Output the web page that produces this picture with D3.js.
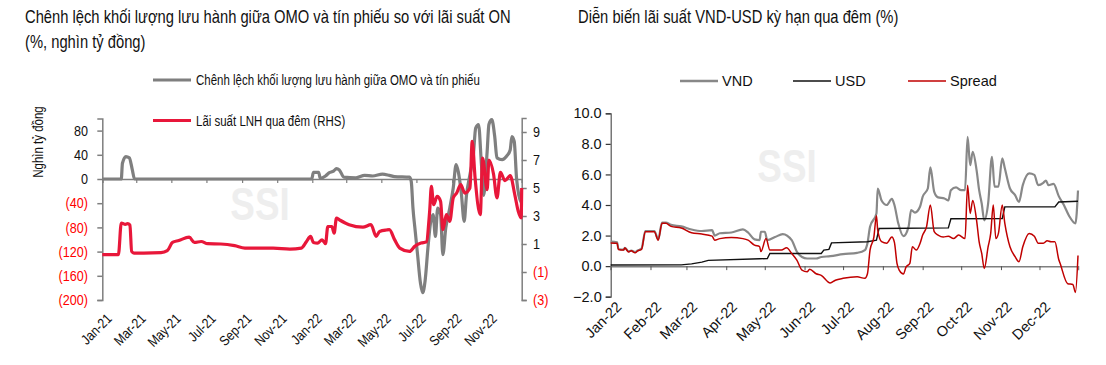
<!DOCTYPE html>
<html><head><meta charset="utf-8">
<script src="https://cdn.jsdelivr.net/npm/d3@7/dist/d3.min.js"></script>
<style>
body{margin:0;background:#fff;}
svg{display:block;}
text{font-family:"Liberation Sans",Arial,sans-serif;}
</style></head>
<body><svg id="c" width="1106" height="365"></svg>
<script>
// ---------- LEFT CHART DATA ----------
const leftTitle1 = "Chênh lệch khối lượng lưu hành giữa OMO và tín phiếu so với lãi suất ON";
const leftTitle2 = "(%, nghìn tỷ đồng)";
const omoLabel = "Chênh lệch khối lượng lưu hành giữa OMO và tín phiếu";
const onLabel = "Lãi suất LNH qua đêm (RHS)";
const leftYTicks = [-200,-160,-120,-80,-40,0,40,80];
const rightYTicks = [-3,-1,1,3,5,7,9];
const omoDates = ["2021-01-01","2021-02-03","2021-02-05","2021-02-11","2021-02-17","2021-02-22","2021-02-26","2021-12-31","2022-01-03","2022-01-12","2022-01-15","2022-01-24","2022-01-30","2022-02-07","2022-02-12","2022-02-17","2022-02-25","2022-03-18","2022-04-02","2022-04-16","2022-05-03","2022-05-15","2022-05-24","2022-06-19","2022-06-22","2022-06-25","2022-06-29","2022-07-03","2022-07-08","2022-07-12","2022-07-16","2022-07-21","2022-07-25","2022-07-30","2022-08-03","2022-08-07","2022-08-12","2022-08-16","2022-08-21","2022-08-28","2022-09-03","2022-09-08","2022-09-12","2022-09-17","2022-09-22","2022-09-26","2022-10-02","2022-10-08","2022-10-12","2022-10-17","2022-10-22","2022-10-26","2022-11-01","2022-11-04","2022-11-09","2022-11-14","2022-11-18","2022-11-27","2022-12-05","2022-12-11","2022-12-14","2022-12-18","2022-12-22","2022-12-26","2022-12-31"];
const omoValues = [0,0,26,37,35,16,0,0,11,11,1,5,10,13,17,15,3,2,6,5,8,6,4,3,-4,-48,-87,-125,-172,-188,-169,-114,-76,-59,-95,-48,-59,-125,-81,-48,-15,24,11,-23,-70,-27,7,40,84,90,24,-27,46,90,98,71,35,32,38,48,70,62,2,-27,-40];
const onDates = ["2021-01-01","2021-01-29","2021-02-03","2021-02-10","2021-02-14","2021-02-18","2021-02-21","2021-02-25","2021-03-14","2021-04-13","2021-04-24","2021-05-03","2021-05-14","2021-06-01","2021-06-10","2021-06-22","2021-07-03","2021-07-26","2021-08-19","2021-09-06","2021-09-26","2021-10-25","2021-11-23","2021-12-13","2021-12-22","2021-12-29","2022-01-03","2022-01-10","2022-01-18","2022-01-24","2022-01-28","2022-02-04","2022-02-08","2022-02-12","2022-02-17","2022-03-06","2022-03-30","2022-04-13","2022-04-22","2022-04-28","2022-05-10","2022-05-15","2022-05-24","2022-06-02","2022-06-19","2022-06-28","2022-07-09","2022-07-18","2022-07-24","2022-07-27","2022-07-31","2022-08-06","2022-08-12","2022-08-16","2022-08-22","2022-08-28","2022-09-03","2022-09-09","2022-09-16","2022-09-23","2022-10-02","2022-10-06","2022-10-11","2022-10-20","2022-10-24","2022-11-01","2022-11-04","2022-11-12","2022-11-18","2022-11-24","2022-12-02","2022-12-11","2022-12-19","2022-12-25","2022-12-30","2022-12-31"];
const onValues = [0.24,0.24,2.5,2.4,2.45,2.35,0.47,0.35,0.35,0.38,0.52,1.11,1.25,1.49,1.11,1.18,1.02,1.0,0.88,0.71,0.71,0.71,0.64,0.71,1.18,1.54,1.11,1.06,1.3,1.02,2.25,2.25,1.78,2.85,2.73,2.38,2.2,2.38,1.54,1.9,2.0,2.02,1.31,0.71,0.47,0.83,1.07,1.14,3.33,5.11,3.81,4.4,4.05,2.02,3.1,2.62,4.29,4.64,5.24,4.64,5.0,8.33,5.71,3.1,7.14,4.88,7.0,6.0,4.29,6.12,5.52,5.88,4.52,3.33,2.86,5.0];

// ---------- RIGHT CHART DATA ----------
const rightTitle = "Diễn biến lãi suất VND-USD kỳ hạn qua đêm (%)";
const seriesNames = ["VND","USD","Spread"];
const rYTicks = [-2,0,2,4,6,8,10];
const vndDates = ["2022-01-01","2022-01-06","2022-01-07","2022-01-11","2022-01-12","2022-01-15","2022-01-17","2022-01-20","2022-01-22","2022-01-25","2022-01-28","2022-02-04","2022-02-07","2022-02-10","2022-02-13","2022-02-17","2022-02-25","2022-03-05","2022-03-13","2022-03-21","2022-03-23","2022-03-27","2022-04-05","2022-04-14","2022-04-18","2022-04-23","2022-04-27","2022-04-28","2022-05-01","2022-05-03","2022-05-09","2022-05-15","2022-05-22","2022-05-26","2022-05-30","2022-06-03","2022-06-10","2022-06-14","2022-06-21","2022-07-01","2022-07-12","2022-07-18","2022-07-20","2022-07-22","2022-07-27","2022-07-28","2022-07-31","2022-08-04","2022-08-08","2022-08-10","2022-08-13","2022-08-17","2022-08-21","2022-08-23","2022-08-26","2022-08-30","2022-09-01","2022-09-05","2022-09-07","2022-09-10","2022-09-13","2022-09-18","2022-09-21","2022-09-23","2022-09-27","2022-10-01","2022-10-04","2022-10-06","2022-10-08","2022-10-10","2022-10-13","2022-10-15","2022-10-17","2022-10-19","2022-10-22","2022-10-25","2022-10-27","2022-10-30","2022-11-02","2022-11-04","2022-11-08","2022-11-12","2022-11-15","2022-11-18","2022-11-23","2022-11-27","2022-11-30","2022-12-04","2022-12-06","2022-12-08","2022-12-12","2022-12-16","2022-12-20","2022-12-24","2022-12-29","2022-12-31"];
const vndValues = [1.6,1.55,1.12,1.08,1.2,0.97,1.02,0.92,1.02,1.15,2.3,2.3,1.75,2.85,2.85,2.7,2.6,2.4,2.3,2.35,2.0,2.15,2.2,2.4,2.2,1.75,1.7,2.25,2.25,1.7,1.9,2.1,1.7,0.94,0.6,0.5,0.5,0.6,0.65,0.78,0.87,1.05,1.5,2.57,3.45,5.08,4.3,4.0,4.4,4.0,2.8,1.96,2.57,3.67,3.5,3.9,4.54,5.08,6.46,4.86,4.5,4.43,4.3,4.97,5.15,4.97,4.97,8.46,6.6,7.48,6.28,4.97,4.1,3.0,4.1,7.15,5.2,5.2,7.05,6.4,5.08,4.65,4.2,5.3,6.07,5.97,5.3,5.45,5.6,5.3,5.38,4.58,4.0,3.3,2.8,4.95];
const usdDates = ["2022-01-01","2022-02-25","2022-03-05","2022-03-13","2022-03-18","2022-04-27","2022-05-03","2022-05-05","2022-06-14","2022-06-16","2022-06-20","2022-06-22","2022-07-20","2022-07-27","2022-07-29","2022-09-21","2022-09-23","2022-11-02","2022-11-04","2022-12-13","2022-12-16","2022-12-31"];
const usdValues = [0.07,0.08,0.15,0.26,0.38,0.48,0.5,0.83,0.83,1.05,1.1,1.52,1.6,1.7,2.46,2.5,3.1,3.12,3.88,3.88,4.2,4.25];
const spreadDates = ["2022-01-01","2022-01-06","2022-01-07","2022-01-11","2022-01-12","2022-01-15","2022-01-17","2022-01-20","2022-01-22","2022-01-25","2022-01-28","2022-02-04","2022-02-07","2022-02-10","2022-02-13","2022-02-17","2022-02-25","2022-03-05","2022-03-13","2022-03-21","2022-03-23","2022-03-27","2022-04-05","2022-04-14","2022-04-18","2022-04-23","2022-04-27","2022-04-28","2022-05-02","2022-05-05","2022-05-14","2022-05-18","2022-05-22","2022-05-26","2022-05-30","2022-06-03","2022-06-05","2022-06-10","2022-06-14","2022-06-21","2022-06-25","2022-07-01","2022-07-12","2022-07-18","2022-07-20","2022-07-22","2022-07-25","2022-07-27","2022-07-28","2022-07-31","2022-08-04","2022-08-08","2022-08-10","2022-08-12","2022-08-14","2022-08-17","2022-08-19","2022-08-22","2022-08-24","2022-08-27","2022-08-30","2022-09-01","2022-09-04","2022-09-07","2022-09-10","2022-09-13","2022-09-17","2022-09-21","2022-09-25","2022-09-29","2022-10-04","2022-10-06","2022-10-08","2022-10-10","2022-10-13","2022-10-15","2022-10-17","2022-10-19","2022-10-22","2022-10-24","2022-10-26","2022-10-28","2022-10-30","2022-11-02","2022-11-04","2022-11-08","2022-11-12","2022-11-15","2022-11-18","2022-11-23","2022-11-27","2022-11-30","2022-12-04","2022-12-07","2022-12-10","2022-12-13","2022-12-16","2022-12-17","2022-12-23","2022-12-27","2022-12-29","2022-12-31"];
const spreadValues = [1.52,1.5,1.09,1.05,1.18,0.93,1.0,0.87,1.0,1.1,2.25,2.25,1.7,2.8,2.8,2.6,2.5,2.18,2.1,1.96,1.7,1.8,1.87,1.8,1.7,1.37,1.28,0.95,1.8,1.05,1.05,1.2,0.83,0.39,-0.26,-0.37,-0.2,-0.5,-0.6,-1.1,-0.92,-0.8,-0.7,-0.8,-0.5,1.05,1.9,3.3,2.35,1.6,1.5,1.9,1.55,0.18,-0.3,-0.52,-0.07,0.18,1.27,1.05,1.5,2.03,2.57,4.0,2.25,2.03,1.9,1.96,1.8,2.03,1.8,5.3,3.45,4.3,3.0,1.59,0.83,-0.15,1.27,2.14,4.0,1.8,2.14,4.0,2.8,1.27,0.62,0.28,1.27,2.14,1.96,1.5,1.5,1.66,1.59,1.59,0.44,0.2,-1.15,-1.2,-1.72,0.7];

const parse = d3.timeParse("%Y-%m-%d");
const fmtMonth = d3.timeFormat("%b-%y");
const zip = (ds, vs) => ds.map((d,i)=>({date:parse(d), v:vs[i]}));

const svg = d3.select("#c");
const GRAY = "#7f7f7f", RED_L = "#e8173a", RED_R = "#c00000", TICKRED = "#ff0000";
const NARROW = 0.84;

// narrow-looking text: Liberation Sans compressed horizontally
function ntext(parent, x, y, size, str, opts={}) {
  const g = parent.append("g").attr("transform", `translate(${x},${y})${opts.rot?` rotate(${opts.rot})`:""} scale(${opts.sx||NARROW},1)`);
  return g.append("text").attr("font-size", size).attr("fill", opts.fill||"#111")
    .attr("text-anchor", opts.anchor||"start").attr("dy", opts.dy||0).text(str);
}

// ===== LEFT CHART =====
ntext(svg, 25, 23, 18, leftTitle1, {sx:0.82});
ntext(svg, 25, 48, 18, leftTitle2, {sx:0.82});

const xL = d3.scaleTime().domain([parse("2021-01-01"), parse("2022-12-31")]).range([102.3, 521.7]);
const yL = d3.scaleLinear().domain([-200,100]).range([300,118.5]);
const yR = d3.scaleLinear().domain([-3,10]).range([300,118]);

// watermark
ntext(svg, 260, 220, 46, "SSI", {anchor:"middle", fill:"#eeeeee", sx:0.8}).attr("font-weight","bold");

// left axis
const gL = svg.append("g").attr("transform",`translate(${xL.range()[0]},0)`)
  .call(d3.axisLeft(yL).tickValues(leftYTicks).tickSize(5).tickFormat(""));
gL.select(".domain").attr("stroke",GRAY).attr("stroke-width",1.5);
gL.selectAll(".tick line").attr("stroke",GRAY).attr("stroke-width",1.5);
leftYTicks.forEach(t => ntext(svg, 88, yL(t), 15, t<0?`(${-t})`:String(t), {anchor:"end", dy:"0.35em", fill:t<0?TICKRED:"#111"}));

// right axis
const gR = svg.append("g").attr("transform",`translate(${xL.range()[1]},0)`)
  .call(d3.axisRight(yR).tickValues(rightYTicks).tickSize(5).tickFormat(""));
gR.select(".domain").attr("stroke",GRAY).attr("stroke-width",1.5);
gR.selectAll(".tick line").attr("stroke",GRAY).attr("stroke-width",1.5);
rightYTicks.forEach(t => ntext(svg, 533, yR(t), 15, t<0?`(${-t})`:String(t), {dy:"0.35em", fill:t<0?TICKRED:"#111"}));

// zero line with ticks
const gX = svg.append("g").attr("transform",`translate(0,${yL(0)})`)
  .call(d3.axisBottom(xL).ticks(d3.timeMonth.every(2)).tickSize(4).tickFormat(""));
gX.select(".domain").attr("stroke",GRAY).attr("stroke-width",1.5);
gX.selectAll(".tick line").attr("stroke",GRAY).attr("stroke-width",1.2);

// x labels at bottom
xL.ticks(d3.timeMonth.every(2)).forEach(d =>
  ntext(svg, xL(d)+3, 312, 14, fmtMonth(d), {anchor:"end", rot:-45, dy:"0.75em", sx:0.86}));

// y title
ntext(svg, 43, 142, 14, "Nghìn tỷ đồng", {anchor:"middle", rot:-90, sx:0.82});

// lines
const lineL = d3.line().x(d=>xL(d.date)).y(d=>yL(d.v)).curve(d3.curveMonotoneX);
const lineR = d3.line().x(d=>xL(d.date)).y(d=>yR(d.v)).curve(d3.curveMonotoneX);
svg.append("path").datum(zip(omoDates,omoValues)).attr("d",lineL).attr("fill","none").attr("stroke",GRAY).attr("stroke-width",3.2).attr("stroke-linejoin","round");
svg.append("path").datum(zip(onDates,onValues)).attr("d",lineR).attr("fill","none").attr("stroke",RED_L).attr("stroke-width",3.2).attr("stroke-linejoin","round");

// legend
svg.append("line").attr("x1",153).attr("x2",191).attr("y1",80).attr("y2",80).attr("stroke",GRAY).attr("stroke-width",3);
ntext(svg, 196, 85, 14, omoLabel, {sx:0.82});
svg.append("line").attr("x1",153).attr("x2",191).attr("y1",120.5).attr("y2",120.5).attr("stroke",RED_L).attr("stroke-width",3);
ntext(svg, 196, 125.5, 14, onLabel, {sx:0.82});

// ===== RIGHT CHART =====
ntext(svg, 578, 23, 18, rightTitle, {sx:0.82});

const x2 = d3.scaleTime().domain([parse("2022-01-01"), parse("2022-12-31")]).range([610.7, 1078]);
const y2 = d3.scaleLinear().domain([-2,10]).range([296.7,113.3]);

ntext(svg, 787, 182, 46, "SSI", {anchor:"middle", fill:"#eeeeee", sx:0.8}).attr("font-weight","bold");

const gY2 = svg.append("g").attr("transform",`translate(${x2.range()[0]},0)`)
  .call(d3.axisLeft(y2).tickValues(rYTicks).tickSize(5).tickPadding(4).tickFormat(d3.format(".1f")));
gY2.select(".domain").attr("stroke","#555").attr("stroke-width",1.2);
gY2.selectAll(".tick line").attr("stroke","#333").attr("stroke-width",1.2);
gY2.selectAll(".tick text").attr("font-size",14.5).attr("fill","#111");

const gX2 = svg.append("g").attr("transform",`translate(0,${y2(0)})`)
  .call(d3.axisBottom(x2).ticks(d3.timeMonth.every(1)).tickSize(4).tickFormat(""));
gX2.select(".domain").attr("stroke",GRAY).attr("stroke-width",1.5);
gX2.selectAll(".tick line").attr("stroke","#555").attr("stroke-width",1);

svg.append("g").selectAll("text").data(x2.ticks(d3.timeMonth.every(1))).join("text")
  .attr("font-size",14.5).attr("fill","#111").attr("text-anchor","end")
  .attr("transform",d=>`translate(${x2(d)+4},${300}) rotate(-45)`).attr("dy","0.75em").text(fmtMonth);

const line2 = d3.line().x(d=>x2(d.date)).y(d=>y2(d.v));
const line2m = d3.line().x(d=>x2(d.date)).y(d=>y2(d.v)).curve(d3.curveMonotoneX);
svg.append("path").datum(zip(vndDates,vndValues)).attr("d",line2m).attr("fill","none").attr("stroke","#888").attr("stroke-width",2.2);
svg.append("path").datum(zip(usdDates,usdValues)).attr("d",line2).attr("fill","none").attr("stroke","#111").attr("stroke-width",1.4);
svg.append("path").datum(zip(spreadDates,spreadValues)).attr("d",line2m).attr("fill","none").attr("stroke",RED_R).attr("stroke-width",1.5);

// legend
const legColors = ["#888","#111",RED_R];
const legX = [680, 793, 908];
seriesNames.forEach((n,i)=>{
  svg.append("line").attr("x1",legX[i]).attr("x2",legX[i]+38).attr("y1",81).attr("y2",81).attr("stroke",legColors[i]).attr("stroke-width",i==0?2.5:1.6);
  svg.append("text").attr("x",legX[i]+42).attr("y",86).attr("font-size",14.5).attr("fill","#111").text(n);
});
</script></body></html>
